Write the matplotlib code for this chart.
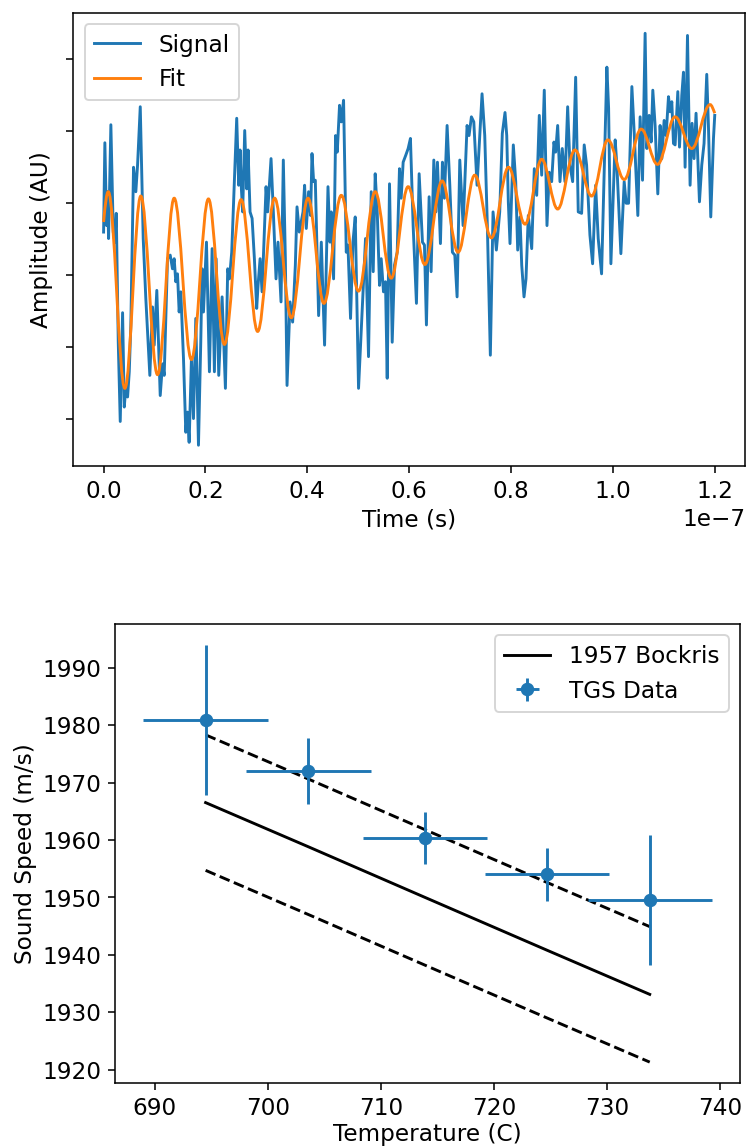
import numpy as np
import matplotlib.pyplot as plt
from matplotlib.path import Path
from matplotlib.patches import PathPatch
from matplotlib.lines import Line2D

# signal trace, time in ns, amplitude in arbitrary units
sig_t = [0.0, 0.25, 0.59, 0.78, 0.98, 1.43, 1.90, 2.22, 2.49, 2.88, 3.27, 3.73, 4.06, 4.37, 4.71,
         5.04, 5.35, 5.88, 6.33, 6.67, 7.20, 7.78, 8.29, 9.08, 9.61, 9.94, 10.45, 11.12, 11.57, 11.90,
         12.55, 13.08, 13.53, 13.86, 14.18, 14.51, 14.84, 15.16, 15.69, 16.14, 16.47, 16.80, 17.25,
         17.65, 18.10, 18.63, 19.08,
         19.35, 19.61, 20.2, 20.78, 21.31, 21.76, 22.10, 22.61, 23.27, 23.92, 24.37, 24.71, 25.16,
         26.14, 26.53, 26.80, 27.06, 27.31, 27.71, 28.10, 28.37, 28.76, 29.16, 29.61, 30.06, 30.33,
         30.73, 31.12, 31.90, 32.22, 32.88, 33.33, 33.86, 34.25, 34.84, 35.29, 35.69, 36.02, 36.61,
         37.12, 37.65, 37.98, 38.43,
         39.16, 39.47, 39.80, 40.25, 40.65, 40.92, 41.24, 41.57, 41.82, 42.22, 42.75, 43.39, 44.06,
         44.45, 44.71, 45.16, 45.55, 45.88, 46.33, 46.67, 47.12, 47.65, 47.98, 48.49, 48.96, 49.41,
         50.06, 51.43, 52.02, 52.55, 52.94, 53.33, 53.73, 54.18, 54.51, 54.96, 55.35, 55.69, 56.14,
         56.67, 57.12, 57.65, 58.10, 58.43,
         58.82, 59.35, 59.80, 60.25, 60.78, 61.43, 61.96, 62.61, 63.00, 63.39, 63.92, 64.31, 64.84,
         65.24, 65.55, 66.14, 66.53, 66.92, 67.45, 67.98, 68.49, 68.96, 69.41, 69.94, 70.59, 71.37,
         71.76, 72.22, 72.69, 73.33, 74.31, 74.84, 75.35, 75.94, 76.47, 77.12, 77.78, 78.29,
         78.82, 79.16, 79.47, 79.80, 80.45, 80.92, 81.31, 81.76, 82.10, 82.55, 82.94, 83.39, 84.06,
         84.57, 85.04, 85.55, 86.02, 86.53, 87.06, 87.51, 87.98, 88.43, 88.76, 89.16, 89.61, 90.06,
         90.59, 91.12, 91.57, 92.10, 92.69, 93.20, 93.86, 94.37, 94.84, 95.49, 96.02, 96.61, 97.12,
         97.78,
         98.82, 99.16, 99.61, 100.45, 100.78, 101.57, 102.22, 102.61, 103.08, 103.73, 104.18, 104.90,
         105.35, 105.82, 106.33, 106.67, 107.12, 107.51, 107.84, 108.29, 108.82, 109.27, 109.61,
         110.06, 110.45, 110.92, 111.24, 111.57, 111.90, 112.22, 112.75, 113.08, 113.53, 113.86,
         114.18, 114.65, 115.16, 115.55, 115.94, 116.33, 117.00, 117.45, 117.90, 118.43, 118.76,
         119.22, 119.75, 120.0]
sig_a = [0.60, 1.84, 0.69, 1.16, 0.51, 2.09, 0.60, 0.46, 0.86, -0.93, -2.03, -0.52, -1.83, -1.55, -1.69,
         -1.34, -0.69, 1.50, 1.16, 1.53, 2.34, 0.51, -0.32, -1.39, -0.44, -0.97, -0.21, -1.67, -1.23, -1.39,
         0.23, 0.28, 0.09, 0.23, -0.09, 0.02, -0.51, -0.23, -1.16, -2.18, -1.90, -2.32, -1.16,
         -1.99, -0.60, -2.36, -0.93,
         0.09, -0.51, 0.46, -1.34, 0.37, -1.34, 0.23, -1.39, -0.30, -1.57, 0.09, -0.05, 0.32,
         2.18, 1.25, 1.74, 1.20, 0.88, 2.01, 1.20, 1.74, 0.88, 0.79, 0.23, -0.46, -0.14,
         0.23, -0.23, 1.23, 0.88, 1.62, 0.88, -0.05, 0.46, -0.37, 1.60, 0.23, -1.53, -0.37,
         -0.65, 0.14, 0.95, 0.60,
         0.88, 1.25, 0.65, 1.16, 0.83, 1.69, 1.30, 1.32, 0.60, -0.56, 0.46, -0.97, 1.23,
         0.46, 0.88, -0.05, 1.94, 1.71, 2.36, 2.13, 2.43, 0.32, 0.42, -0.60, 0.46, 0.81,
         -1.57, 0.51, -1.13, 1.16, 0.05, 1.41, 0.88, -0.14, 0.23, -0.23, -0.09, -1.43, 1.27,
         -0.93, 0.14, 0.32, 1.48, 1.07,
         1.57, 1.67, 1.76, 1.90, 0.69, -0.39, 1.41, 0.46, 0.42, -0.69, 1.09, 0.05, 1.60,
         0.88, 1.57, 0.44, 1.57, 1.07, 2.08, 1.25, 0.32, 0.28, -0.30, 1.60, 0.69, 2.08,
         1.94, 2.20, 2.13, 1.25, 2.52, 1.94, 0.69, -1.11, 0.88, 0.35, 0.88, 1.97,
         2.26, 1.94, 1.02, 0.44, 1.81, 1.30, 0.35, 0.81, 0.14, -0.30, -0.05, 0.83, 0.37,
         1.48, 1.11, 2.22, 1.39, 2.57, 0.69, 1.43, 1.30, 1.85, 1.71, 2.08, 1.30, 1.76,
         1.30, 2.34, 1.53, 1.30, 2.75, 0.88, 0.86, 1.81, 1.53, 0.56, 0.16, 1.25, 0.51,
         0.02,
         2.89, 2.32, 0.16, 1.88, 1.53, 0.30, 1.30, 1.00, 1.00, 2.62, 1.99, 0.83,
         2.20, 1.32, 3.36, 1.76, 2.22, 1.85, 2.57, 2.08, 1.13, 2.08, 1.62,
         2.15, 1.94, 2.48, 2.27, 2.41, 1.83, 1.81, 2.55, 1.78, 2.50, 2.82,
         1.50, 3.33, 1.25, 2.11, 1.62, 2.25, 1.02, 1.53, 1.83, 2.79, 2.08,
         0.81, 1.90, 2.22]

# fit curve: turning points (ns, AU)
fit_t = [0.0, 0.92, 4.18, 7.31, 10.59, 13.86, 17.25, 20.59, 23.73, 27.0, 30.25, 33.59, 36.86,
         40.14, 43.27, 46.67, 50.06, 53.33, 56.47, 59.80, 63.08, 66.47, 69.61, 72.88, 76.14,
         79.51, 82.75, 86.02, 89.16, 92.55, 95.82, 99.02, 102.22, 105.55, 108.76, 112.22,
         115.49, 119.08, 120.0]
fit_a = [0.74, 1.16, -1.57, 1.10, -1.38, 1.07, -1.17, 1.06, -0.96, 1.05, -0.78, 1.07, -0.59,
         1.07, -0.39, 1.11, -0.22, 1.16, -0.04, 1.23, 0.15, 1.31, 0.32, 1.39, 0.52,
         1.50, 0.71, 1.61, 0.92, 1.74, 1.10, 1.88, 1.33, 2.03, 1.54, 2.20,
         1.76, 2.37, 2.25]

# sound speed vs temperature
temps = [694.5, 703.6, 713.9, 724.7, 733.8]
speed = [1980.9, 1972.0, 1960.3, 1954.0, 1949.6]
temp_err = [5.5, 5.5, 5.5, 5.5, 5.5]
speed_err = [13.1, 5.8, 4.5, 4.6, 11.3]
bockris = [1966.5, 1958.8, 1950.0, 1940.8, 1933.1]
bockris_hi = [1978.3, 1970.6, 1961.8, 1952.6, 1944.9]
bockris_lo = [1954.7, 1947.0, 1938.2, 1929.0, 1921.3]

plt.rcParams['font.size'] = 12
fig = plt.figure(figsize=(746.3 / 139, 1147.3 / 139), dpi=139)

ax1 = fig.add_axes([73 / 746, 1 - 466 / 1147, 672 / 746, 453 / 1147])
sig_line, = ax1.plot(np.array(sig_t) * 1e-9, sig_a, color='C0')

# smooth fit: cubic bezier pieces between turning points
verts = [(fit_t[0] * 1e-9, fit_a[0])]
codes = [Path.MOVETO]
last = len(fit_t) - 2
for i in range(len(fit_t) - 1):
    t0, t1 = fit_t[i], fit_t[i + 1]
    a0, a1 = fit_a[i], fit_a[i + 1]
    k = 0.364 * (t1 - t0)
    c0 = a0 + 0.6 * (a1 - a0) if i == 0 else a0
    c1 = a1 + 0.5 * (a0 - a1) if i == last else a1
    verts += [((t0 + k) * 1e-9, c0), ((t1 - k) * 1e-9, c1), (t1 * 1e-9, a1)]
    codes += [Path.CURVE4] * 3
ax1.add_patch(PathPatch(Path(verts, codes), facecolor='none', edgecolor='C1', lw=1.5, zorder=2))
ax1.autoscale_view()

ax1.tick_params(labelleft=False)
ax1.set_xlabel('Time (s)', labelpad=3)
ax1.set_ylabel('Amplitude (AU)', labelpad=7)
ax1.legend([sig_line, Line2D([], [], color='C1')], ['Signal', 'Fit'], loc='upper left')

ax2 = fig.add_axes([115 / 746, 1 - 1083 / 1147, 625 / 746, 459 / 1147])
ax2.plot(temps, bockris, color='k', label='1957 Bockris')
ax2.plot(temps, bockris_hi, 'k--')
ax2.plot(temps, bockris_lo, 'k--')
ax2.errorbar(temps, speed, xerr=temp_err, yerr=speed_err, fmt='o', label='TGS Data')
ax2.set_xlabel('Temperature (C)', labelpad=1.5)
ax2.set_ylabel('Sound Speed (m/s)', labelpad=3)
ax2.legend(loc='upper right')

fig.savefig('out.png', dpi=139)
